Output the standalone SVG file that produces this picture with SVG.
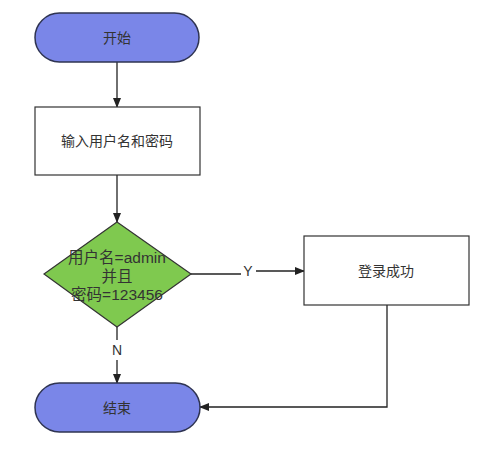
<svg xmlns="http://www.w3.org/2000/svg" width="481" height="456" viewBox="0 0 481 456">
<defs>
<marker id="arr" markerWidth="10" markerHeight="10" refX="9" refY="5" orient="auto" markerUnits="userSpaceOnUse">
<path d="M0,1 L10,5 L0,9 Z" fill="#222"/>
</marker>
<style>
.term{fill:#7a86e8;stroke:#2f3452;stroke-width:1.5}
.box{fill:#fff;stroke:#333;stroke-width:1.2}
.dec{fill:#7fc94f;stroke:#333;stroke-width:1.2}
.t{font-family:"Liberation Sans","Noto Sans CJK SC",sans-serif;font-size:14px;fill:#333;text-anchor:middle;dominant-baseline:central}
.d{font-size:15.5px}
.edge{fill:none;stroke:#222;stroke-width:1.3}
</style>
</defs>
<rect width="481" height="456" fill="#fff"/>
<g id="connectors">
<line class="edge" x1="117" y1="62" x2="117" y2="107" marker-end="url(#arr)"/>
<line class="edge" x1="117" y1="175" x2="117" y2="222" marker-end="url(#arr)"/>
<line class="edge" x1="191" y1="274" x2="241" y2="274"/>
<line class="edge" x1="256" y1="271" x2="304" y2="271" marker-end="url(#arr)"/>
<line class="edge" x1="117" y1="327" x2="117" y2="340"/>
<line class="edge" x1="117" y1="360" x2="117" y2="383" marker-end="url(#arr)"/>
<polyline class="edge" points="387,305 387,407 200,407" marker-end="url(#arr)"/>
<text class="t" x="248" y="271">Y</text>
<text class="t" x="117" y="350">N</text>
</g>
<g id="start">
<rect class="term" x="35" y="13" width="164" height="49" rx="24.5"/>
<text class="t" x="117" y="38">开始</text>
</g>
<g id="input">
<rect class="box" x="35" y="107" width="165" height="68"/>
<text class="t" x="117" y="141">输入用户名和密码</text>
</g>
<g id="decision">
<polygon class="dec" points="117,222 191,274 117,327 44,274"/>
<text class="t d" x="117" y="257">用户名=admin</text>
<text class="t d" x="117" y="276">并且</text>
<text class="t d" x="117" y="294">密码=123456</text>
</g>
<g id="success">
<rect class="box" x="304" y="236" width="165" height="69"/>
<text class="t" x="386" y="271">登录成功</text>
</g>
<g id="end">
<rect class="term" x="35" y="383" width="165" height="49" rx="24.5"/>
<text class="t" x="117" y="408">结束</text>
</g>
</svg>
